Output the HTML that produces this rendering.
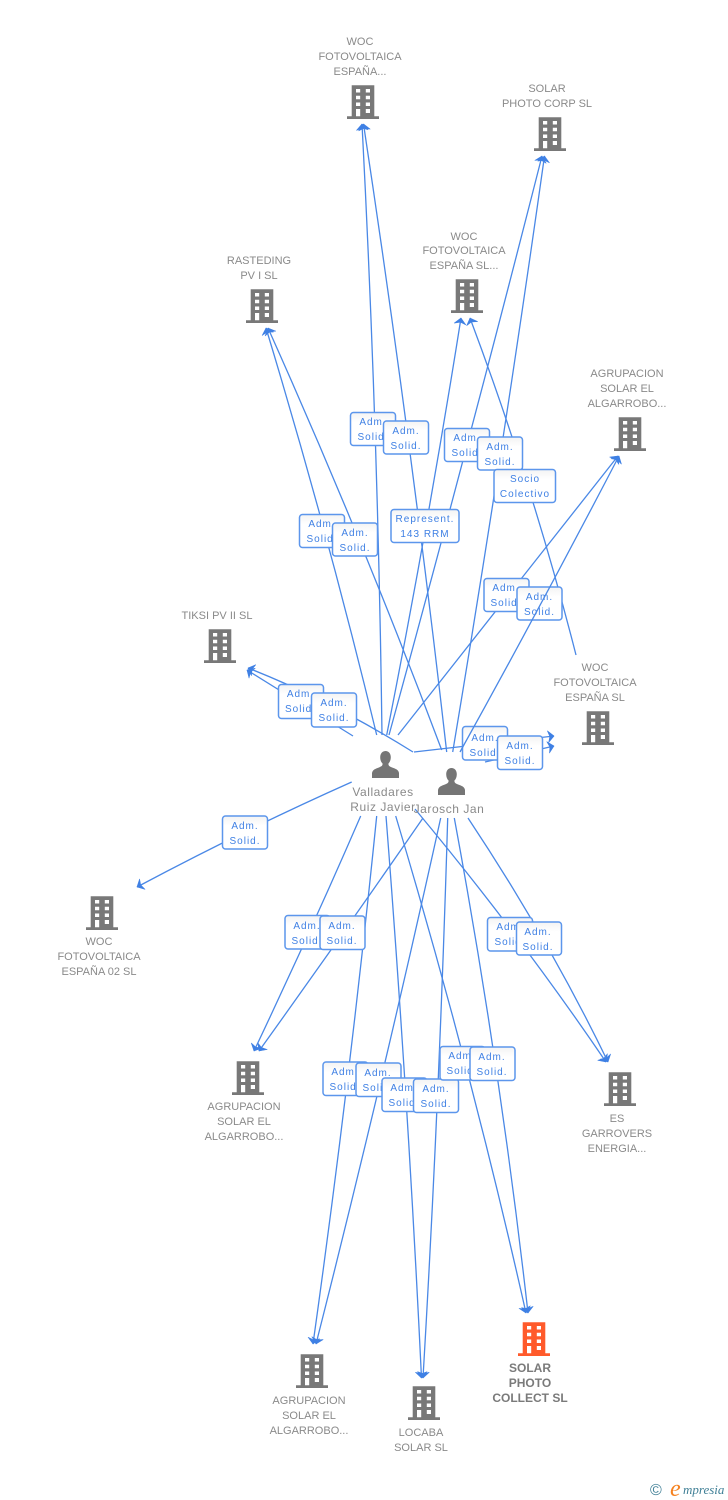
<!DOCTYPE html>
<html><head><meta charset="utf-8"><title>Diagram</title>
<style>
html,body{margin:0;padding:0;background:#fff;width:728px;height:1500px;overflow:hidden}
svg{display:block}
.n{font:11px "Liberation Sans",sans-serif;fill:#8a8a8a;text-anchor:middle}
.b{font:bold 12px "Liberation Sans",sans-serif;fill:#7a7a7a;text-anchor:middle}
.p{font:12px "Liberation Sans",sans-serif;fill:#8a8a8a;text-anchor:middle;letter-spacing:.55px}
.t{font:10px "Liberation Sans",sans-serif;fill:#3f80e4;text-anchor:middle;letter-spacing:1px}
.e path{stroke:#4a88e6;stroke-width:1.3;fill:none;marker-end:url(#ah)}
.l rect{fill:url(#g);stroke:#5c96ec;stroke-width:1.5}
</style></head><body>
<svg width="728" height="1500" viewBox="0 0 728 1500" xmlns="http://www.w3.org/2000/svg">
<defs>
<linearGradient id="g" x1="0" y1="0" x2="0" y2="1"><stop offset="0" stop-color="#f3f3f3"/><stop offset=".3" stop-color="#fff"/><stop offset="1" stop-color="#fff"/></linearGradient>
<marker id="ah" markerUnits="userSpaceOnUse" markerWidth="14" markerHeight="14" refX="9" refY="7" orient="auto">
<path d="M9,7 L3,1.200 L4.800,7 L3,12.800 Z" fill="#3f80e4" stroke="#3f80e4" stroke-width=".6" stroke-linejoin="round"/>
</marker>
<symbol id="bd" width="32" height="34" viewBox="0 0 32 34">
<path fill-rule="evenodd" d="M4.700,0.300H27.300V31.300H32V34H0V31.300H4.700Z M9,4V7.500H13.200V4Z M18.800,4V7.500H23V4Z M9,10.800V14.200H13.200V10.800Z M18.800,10.800V14.200H23V10.800Z M9,17.500V21H13.200V17.500Z M18.800,17.500V21H23V17.500Z M9,24V31.300H13.200V24Z M18.800,24V28H23V24Z" fill="currentColor"/>
</symbol>
<symbol id="pr" width="27" height="27" viewBox="0 0 27 27">
<path d="M13.500,0C10.300,0 8.200,2.600 8.200,6.200C8.200,9 9.200,11.200 10.600,12.600C10.600,14.400 10,15.200 7.500,16.200C3,17.800 0.500,18.800 0,22V27H27V22C26.500,18.800 24,17.800 19.500,16.200C17,15.200 16.400,14.400 16.400,12.600C17.800,11.200 18.800,9 18.800,6.200C18.800,2.600 16.700,0 13.500,0Z" fill="#757575"/>
</symbol>
</defs>

<g class="e">
<path d="M382,735 Q378,429 362,124"/>
<path d="M446.700,752 Q411,438 363.500,124"/>
<path d="M389,735 Q468.500,445 542,156"/>
<path d="M452.700,752 Q502.500,454 544.500,156"/>
<path d="M386.700,735 Q428,526 461,318"/>
<path d="M576,655 Q533,486 470,318"/>
<path d="M376.700,735 Q327.500,531 266,328"/>
<path d="M441.700,750 Q363,540 268,328"/>
<path d="M398,735 Q508,595 618,456"/>
<path d="M353,736 Q300,703 247,670"/>
<path d="M413,752 Q329.500,700 248,668"/>
<path d="M414,752 L554,736"/>
<path d="M485,762 L554,746"/>
<path d="M351.700,782 Q244,830 137,887"/>
<path d="M360.700,816 Q310,933 254,1051"/>
<path d="M423,818 Q343,934 259,1051"/>
<path d="M415,809 Q519.500,934.500 606,1062"/>
<path d="M468,818 Q549,940 608,1062"/>
<path d="M376.700,816 Q350,1080 313,1344"/>
<path d="M440.700,818 Q383,1080 316,1344"/>
<path d="M386,816 Q408,1097 421.500,1378"/>
<path d="M447.700,818 Q439.500,1098 423,1378"/>
<path d="M395.700,816 Q470,1064 526,1313"/>
<path d="M454.300,818 Q500,1065 528,1313"/>
</g>

<g class="l">
<rect x="350.500" y="412.500" width="45" height="33" rx="3"/><text class="t" x="373" y="425">Adm.</text><text class="t" x="373" y="440">Solid.</text>
<rect x="383.500" y="421" width="45" height="33" rx="3"/><text class="t" x="406" y="434">Adm.</text><text class="t" x="406" y="449">Solid.</text>
<rect x="444.500" y="428.500" width="45" height="33" rx="3"/><text class="t" x="467" y="441">Adm.</text><text class="t" x="467" y="456">Solid.</text>
<rect x="477.500" y="437" width="45" height="33" rx="3"/><text class="t" x="500" y="450">Adm.</text><text class="t" x="500" y="465">Solid.</text>
<rect x="494" y="469.500" width="61.500" height="33" rx="3"/><text class="t" x="525" y="482">Socio</text><text class="t" x="525" y="497">Colectivo</text>
<rect x="391" y="509.500" width="68" height="33" rx="3"/><text class="t" x="425" y="522">Represent.</text><text class="t" x="425" y="537">143 RRM</text>
<rect x="299.500" y="514.500" width="45" height="33" rx="3"/><text class="t" x="322" y="527">Adm.</text><text class="t" x="322" y="542">Solid.</text>
<rect x="332.500" y="523" width="45" height="33" rx="3"/><text class="t" x="355" y="536">Adm.</text><text class="t" x="355" y="551">Solid.</text>
<rect x="484" y="578.500" width="45" height="33" rx="3"/><text class="t" x="506" y="591">Adm.</text><text class="t" x="506" y="606">Solid.</text>
<rect x="517" y="587" width="45" height="33" rx="3"/><text class="t" x="539.500" y="600">Adm.</text><text class="t" x="539.500" y="615">Solid.</text>
<rect x="278.500" y="684.500" width="45" height="34" rx="3"/><text class="t" x="300.500" y="697">Adm.</text><text class="t" x="300.500" y="712">Solid.</text>
<rect x="311.500" y="693" width="45" height="34" rx="3"/><text class="t" x="334" y="706">Adm.</text><text class="t" x="334" y="721">Solid.</text>
<rect x="462.500" y="726.500" width="45" height="33.500" rx="3"/><text class="t" x="485" y="741">Adm.</text><text class="t" x="485" y="756">Solid.</text>
<rect x="497.500" y="736" width="45" height="33.500" rx="3"/><text class="t" x="520" y="749">Adm.</text><text class="t" x="520" y="764">Solid.</text>
<rect x="222.500" y="816" width="45" height="33" rx="3"/><text class="t" x="245" y="829">Adm.</text><text class="t" x="245" y="844">Solid.</text>
<rect x="285" y="915.500" width="45" height="33.500" rx="3"/><text class="t" x="307" y="929">Adm.</text><text class="t" x="307" y="944">Solid.</text>
<rect x="320" y="916" width="45" height="33.500" rx="3"/><text class="t" x="342" y="929">Adm.</text><text class="t" x="342" y="944">Solid.</text>
<rect x="487.500" y="917.500" width="45" height="33.500" rx="3"/><text class="t" x="510" y="930">Adm.</text><text class="t" x="510" y="945">Solid.</text>
<rect x="516.500" y="922" width="45" height="33" rx="3"/><text class="t" x="538" y="935">Adm.</text><text class="t" x="538" y="950">Solid.</text>
<rect x="323" y="1062" width="45" height="33.500" rx="3"/><text class="t" x="345" y="1075">Adm.</text><text class="t" x="345" y="1090">Solid.</text>
<rect x="356" y="1063" width="45" height="33.500" rx="3"/><text class="t" x="378" y="1076">Adm.</text><text class="t" x="378" y="1091">Solid.</text>
<rect x="382" y="1078" width="45" height="33.500" rx="3"/><text class="t" x="404" y="1091">Adm.</text><text class="t" x="404" y="1106">Solid.</text>
<rect x="413.500" y="1079" width="45" height="33.500" rx="3"/><text class="t" x="436" y="1092">Adm.</text><text class="t" x="436" y="1107">Solid.</text>
<rect x="440" y="1046.500" width="45" height="33.500" rx="3"/><text class="t" x="462" y="1059">Adm.</text><text class="t" x="462" y="1074">Solid.</text>
<rect x="470" y="1047" width="45" height="33.500" rx="3"/><text class="t" x="492" y="1060">Adm.</text><text class="t" x="492" y="1075">Solid.</text>
</g>

<g class="e">
<path d="M460,752 Q542,604 619,456"/>
</g>

<g color="#787878">
<use href="#bd" x="347" y="85" width="32" height="34"/>
<use href="#bd" x="534" y="117" width="32" height="34"/>
<use href="#bd" x="451" y="279" width="32" height="34"/>
<use href="#bd" x="246" y="289" width="32" height="34"/>
<use href="#bd" x="614" y="417" width="32" height="34"/>
<use href="#bd" x="204" y="629" width="32" height="34"/>
<use href="#bd" x="582" y="711" width="32" height="34"/>
<use href="#bd" x="86" y="896" width="32" height="34"/>
<use href="#bd" x="232" y="1061" width="32" height="34"/>
<use href="#bd" x="604" y="1072" width="32" height="34"/>
<use href="#bd" x="296" y="1354" width="32" height="34"/>
<use href="#bd" x="408" y="1386" width="32" height="34"/>
</g>
<g color="#ff5a2b"><use href="#bd" x="518" y="1322" width="32" height="34"/></g>

<use href="#pr" x="372" y="751" width="27" height="27"/>
<use href="#pr" x="438" y="768" width="27" height="27"/>

<text class="n" x="360" y="45">WOC</text><text class="n" x="360" y="60">FOTOVOLTAICA</text><text class="n" x="360" y="75">ESPAÑA...</text>
<text class="n" x="547" y="92">SOLAR</text><text class="n" x="547" y="107">PHOTO CORP SL</text>
<text class="n" x="464" y="240">WOC</text><text class="n" x="464" y="254">FOTOVOLTAICA</text><text class="n" x="464" y="269">ESPAÑA SL...</text>
<text class="n" x="259" y="264">RASTEDING</text><text class="n" x="259" y="279">PV I SL</text>
<text class="n" x="627" y="377">AGRUPACION</text><text class="n" x="627" y="392">SOLAR EL</text><text class="n" x="627" y="407">ALGARROBO...</text>
<text class="n" x="217" y="619">TIKSI PV II SL</text>
<text class="n" x="595" y="671">WOC</text><text class="n" x="595" y="686">FOTOVOLTAICA</text><text class="n" x="595" y="701">ESPAÑA SL</text>
<text class="n" x="99" y="945">WOC</text><text class="n" x="99" y="960">FOTOVOLTAICA</text><text class="n" x="99" y="975">ESPAÑA 02  SL</text>
<text class="n" x="244" y="1110">AGRUPACION</text><text class="n" x="244" y="1125">SOLAR EL</text><text class="n" x="244" y="1140">ALGARROBO...</text>
<text class="n" x="617" y="1122">ES</text><text class="n" x="617" y="1137">GARROVERS</text><text class="n" x="617" y="1152">ENERGIA...</text>
<text class="n" x="309" y="1404">AGRUPACION</text><text class="n" x="309" y="1419">SOLAR EL</text><text class="n" x="309" y="1434">ALGARROBO...</text>
<text class="n" x="421" y="1436">LOCABA</text><text class="n" x="421" y="1451">SOLAR SL</text>
<text class="b" x="530" y="1372">SOLAR</text><text class="b" x="530" y="1387">PHOTO</text><text class="b" x="530" y="1402">COLLECT SL</text>
<text class="p" x="383" y="796">Valladares</text><text class="p" x="383" y="811">Ruiz Javier</text>
<text class="p" x="449" y="813">Jarosch Jan</text>

<text x="650" y="1495" style="font:16px 'Liberation Sans',sans-serif;fill:#3f7f96">©</text>
<text x="670" y="1496" style="font:italic 24px 'Liberation Serif',serif;fill:#f58220">e</text>
<text x="683" y="1494" style="font:italic 13px 'Liberation Serif',serif;fill:#3f7f96">mpresia</text>
</svg>
</body></html>
